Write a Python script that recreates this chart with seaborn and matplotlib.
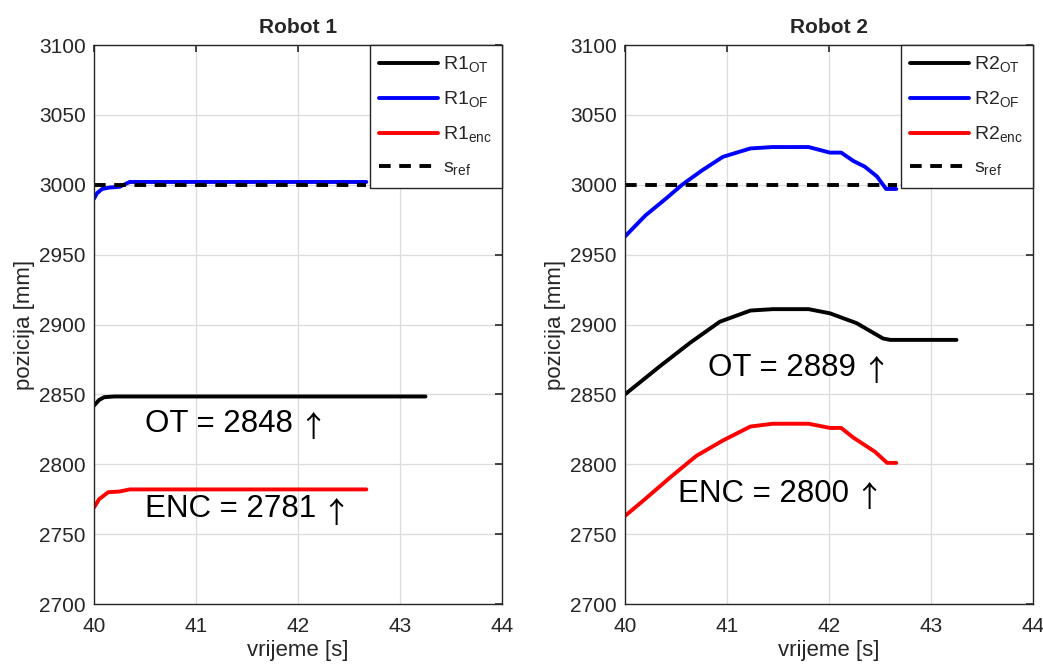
import numpy as np
import pandas as pd
import matplotlib
matplotlib.use("Agg")
import matplotlib.pyplot as plt
import seaborn as sns

# --- podaci (ocitano sa slike) ---
r1_t_ot = [40.0, 40.05, 40.1, 40.2, 43.25]
r1_ot = [2842, 2846, 2848, 2848.5, 2848.5]
r1_t_of = [40.0, 40.03, 40.08, 40.15, 40.25, 40.35, 42.67]
r1_of = [2990, 2994, 2997, 2998, 2998.5, 3002, 3002]
r1_t_enc = [40.0, 40.05, 40.14, 40.25, 40.35, 42.67]
r1_enc = [2769, 2775, 2780, 2780.5, 2782, 2782]

r2_t_ot = [40.0, 40.34, 40.64, 40.93, 41.23, 41.45, 41.8, 42.01, 42.27, 42.53, 42.6, 43.25]
r2_ot = [2850, 2870, 2887, 2902, 2910, 2911, 2911, 2908, 2901, 2890, 2889, 2889]
r2_t_of = [40.0, 40.2, 40.4, 40.56, 40.75, 40.96, 41.23, 41.45, 41.8, 42.01, 42.12, 42.24, 42.35, 42.47, 42.56, 42.66]
r2_of = [2963, 2978, 2990, 3000, 3010, 3020, 3026, 3027, 3027, 3023, 3023, 3017, 3013, 3006, 2997, 2997]
r2_t_enc = [40.0, 40.18, 40.45, 40.7, 40.96, 41.23, 41.45, 41.8, 42.01, 42.12, 42.24, 42.45, 42.57, 42.66]
r2_enc = [2763, 2774, 2791, 2806, 2817, 2827, 2829, 2829, 2826, 2826, 2819, 2809, 2801, 2801]

s_ref_t = [40.0, 42.67]
s_ref = [3000, 3000]

robots = ["Robot 1", "Robot 2"]
ot_final = [2848, 2889]
enc_final = [2781, 2800]
ot_text_pos = [(40.5, 2829), (40.81, 2869)]
enc_text_pos = [(40.5, 2768), (40.52, 2779)]

series = [
    [(r1_t_ot, r1_ot), (r1_t_of, r1_of), (r1_t_enc, r1_enc)],
    [(r2_t_ot, r2_ot), (r2_t_of, r2_of), (r2_t_enc, r2_enc)],
]

sns.set_style("whitegrid")
plt.rcParams['font.family'] = ['Liberation Sans', 'DejaVu Sans']
plt.rcParams['mathtext.fontset'] = 'custom'
plt.rcParams['mathtext.rm'] = 'Liberation Sans'

fig = plt.figure(figsize=(10.43, 6.68), dpi=100)
ax_pos = [[0.0901, 0.0958, 0.3912, 0.8368], [0.5992, 0.0958, 0.3912, 0.8368]]

colors = ["black", "blue", "red"]
suffix = ["OT", "OF", "enc"]


def add_label(ax, pos, label):
    # tekst + strelica (strelica u CJK fontu da bude visoka i tanka kao u originalu)
    txt = ax.text(pos[0], pos[1], label, fontsize=22.5, va="center", ha="left", color="black")
    ax.annotate("\u2191", xy=(1, 0.5), xycoords=txt, xytext=(4, -4), textcoords="offset points",
                ha="left", va="center", fontsize=21, family=["Noto Sans CJK SC", "DejaVu Sans"],
                color="black")


for i, name in enumerate(robots):
    ax = fig.add_axes(ax_pos[i])
    for j, (t, v) in enumerate(series[i]):
        sns.lineplot(x=t, y=v, ax=ax, color=colors[j], linewidth=2.8, sort=False,
                     estimator=None, label=f"R{i+1}$_{{\\mathrm{{{suffix[j]}}}}}$")
    sns.lineplot(x=s_ref_t, y=s_ref, ax=ax, color="black", linewidth=2.8, linestyle="--",
                 sort=False, estimator=None, label="s$_{\\mathrm{ref}}$")
    ax.lines[-1].set_dashes((3, 2.2))

    ax.set_xlim(40, 44)
    ax.set_ylim(2700, 3100)
    ax.set_xticks(np.arange(40, 45, 1))
    ax.set_yticks(np.arange(2700, 3101, 50))
    ax.tick_params(direction="in", top=True, right=True, labelsize=15, length=5,
                   width=1.2, colors="#262626", pad=6)
    ax.tick_params(axis="x", pad=9)
    ax.grid(True, color="#dcdcdc", linewidth=0.9)
    for sp in ax.spines.values():
        sp.set_color("#262626")
        sp.set_linewidth(1.0)
    ax.set_title(name, fontsize=15, fontweight="bold", pad=9)
    ax.set_xlabel("vrijeme [s]", fontsize=16, labelpad=3)
    ax.set_ylabel("pozicija [mm]", fontsize=16, labelpad=3)

    leg = ax.legend(loc="upper right", fontsize=14, frameon=True, fancybox=False,
                    borderaxespad=0, handlelength=3.0, borderpad=0.5, labelspacing=0.75,
                    handletextpad=0.3)
    leg.get_frame().set_edgecolor("#262626")
    leg.get_frame().set_linewidth(1.0)
    leg.get_frame().set_alpha(1)

    add_label(ax, ot_text_pos[i], f"OT = {ot_final[i]}")
    add_label(ax, enc_text_pos[i], f"ENC = {enc_final[i]}")

fig.savefig("out.png", dpi=100)
